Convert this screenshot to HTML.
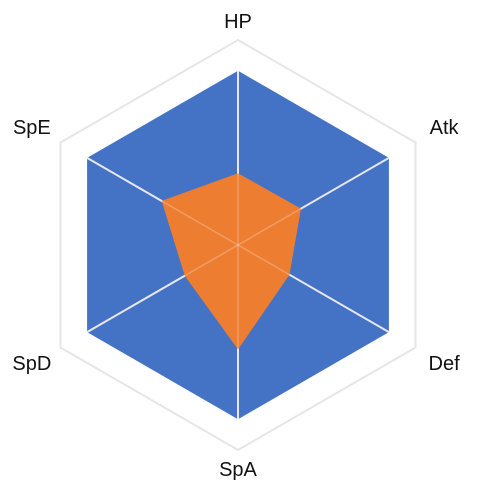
<!DOCTYPE html>
<html><head><meta charset="utf-8"><style>
html,body{margin:0;padding:0;background:#fff;}
svg{display:block;font-family:"Liberation Sans",sans-serif;}
</style></head><body>
<svg id="chart" width="479" height="491" viewBox="0 0 479 491"></svg>
<script>
const categories = ["HP","Atk","Def","SpA","SpD","SpE"];
const seriesMax = [85,85,85,85,85,85];
const seriesStats = [35,35.5,29,51,30,43];
const scaleMax = 100;

const cx = 238, cy = 245, R = 205;
const svg = document.getElementById('chart');
const NS = 'http://www.w3.org/2000/svg';
function ang(i){ return -Math.PI/2 + i*2*Math.PI/categories.length; }
function pt(i, v){ const r = v/scaleMax*R; return [cx + r*Math.cos(ang(i)), cy + r*Math.sin(ang(i))]; }
function poly(vals, fill, stroke, name){
  const p = document.createElementNS(NS,'polygon');
  p.setAttribute('points', vals.map((v,i)=>pt(i,v).join(',')).join(' '));
  p.setAttribute('fill', fill);
  p.setAttribute('stroke', stroke);
  p.setAttribute('stroke-width', '2');
  
  
  svg.appendChild(p);
}
poly(categories.map(()=>scaleMax), 'none', '#e6e6e6', 'grid-hexagon');
poly(seriesMax, '#4472c4', 'none', 'series-max-area');
for (let i=0;i<categories.length;i++){
  const l = document.createElementNS(NS,'line');
  const e = pt(i, seriesMax[i]);
  l.setAttribute('x1', cx); l.setAttribute('y1', cy);
  l.setAttribute('x2', e[0]); l.setAttribute('y2', e[1]);
  l.setAttribute('stroke', '#e8e8f0'); l.setAttribute('stroke-width', '2');
  
  
  svg.appendChild(l);
}
poly(seriesStats, '#ed7d31', 'none', 'series-stats-area');
for (let i=0;i<categories.length;i++){
  const l = document.createElementNS(NS,'line');
  const e = pt(i, seriesStats[i]);
  l.setAttribute('x1', cx); l.setAttribute('y1', cy);
  l.setAttribute('x2', e[0]); l.setAttribute('y2', e[1]);
  l.setAttribute('stroke', 'rgba(255,255,255,0.25)'); l.setAttribute('stroke-width', '1.5');
  
  
  svg.appendChild(l);
}
for (let i=0;i<categories.length;i++){
  const t = document.createElementNS(NS,'text');
  const a = ang(i);
  const side = Math.abs(Math.cos(a)) > 0.1;
  const x = cx + 238*Math.cos(a);
  const y = cy + (side ? 236 : 224)*Math.sin(a);
  t.setAttribute('x', x); t.setAttribute('y', y + 7);
  t.setAttribute('text-anchor', 'middle');
  t.setAttribute('font-size', '20');
  t.setAttribute('fill', '#111');
  t.textContent = categories[i];
  
  
  svg.appendChild(t);
}
</script>
</body></html>
